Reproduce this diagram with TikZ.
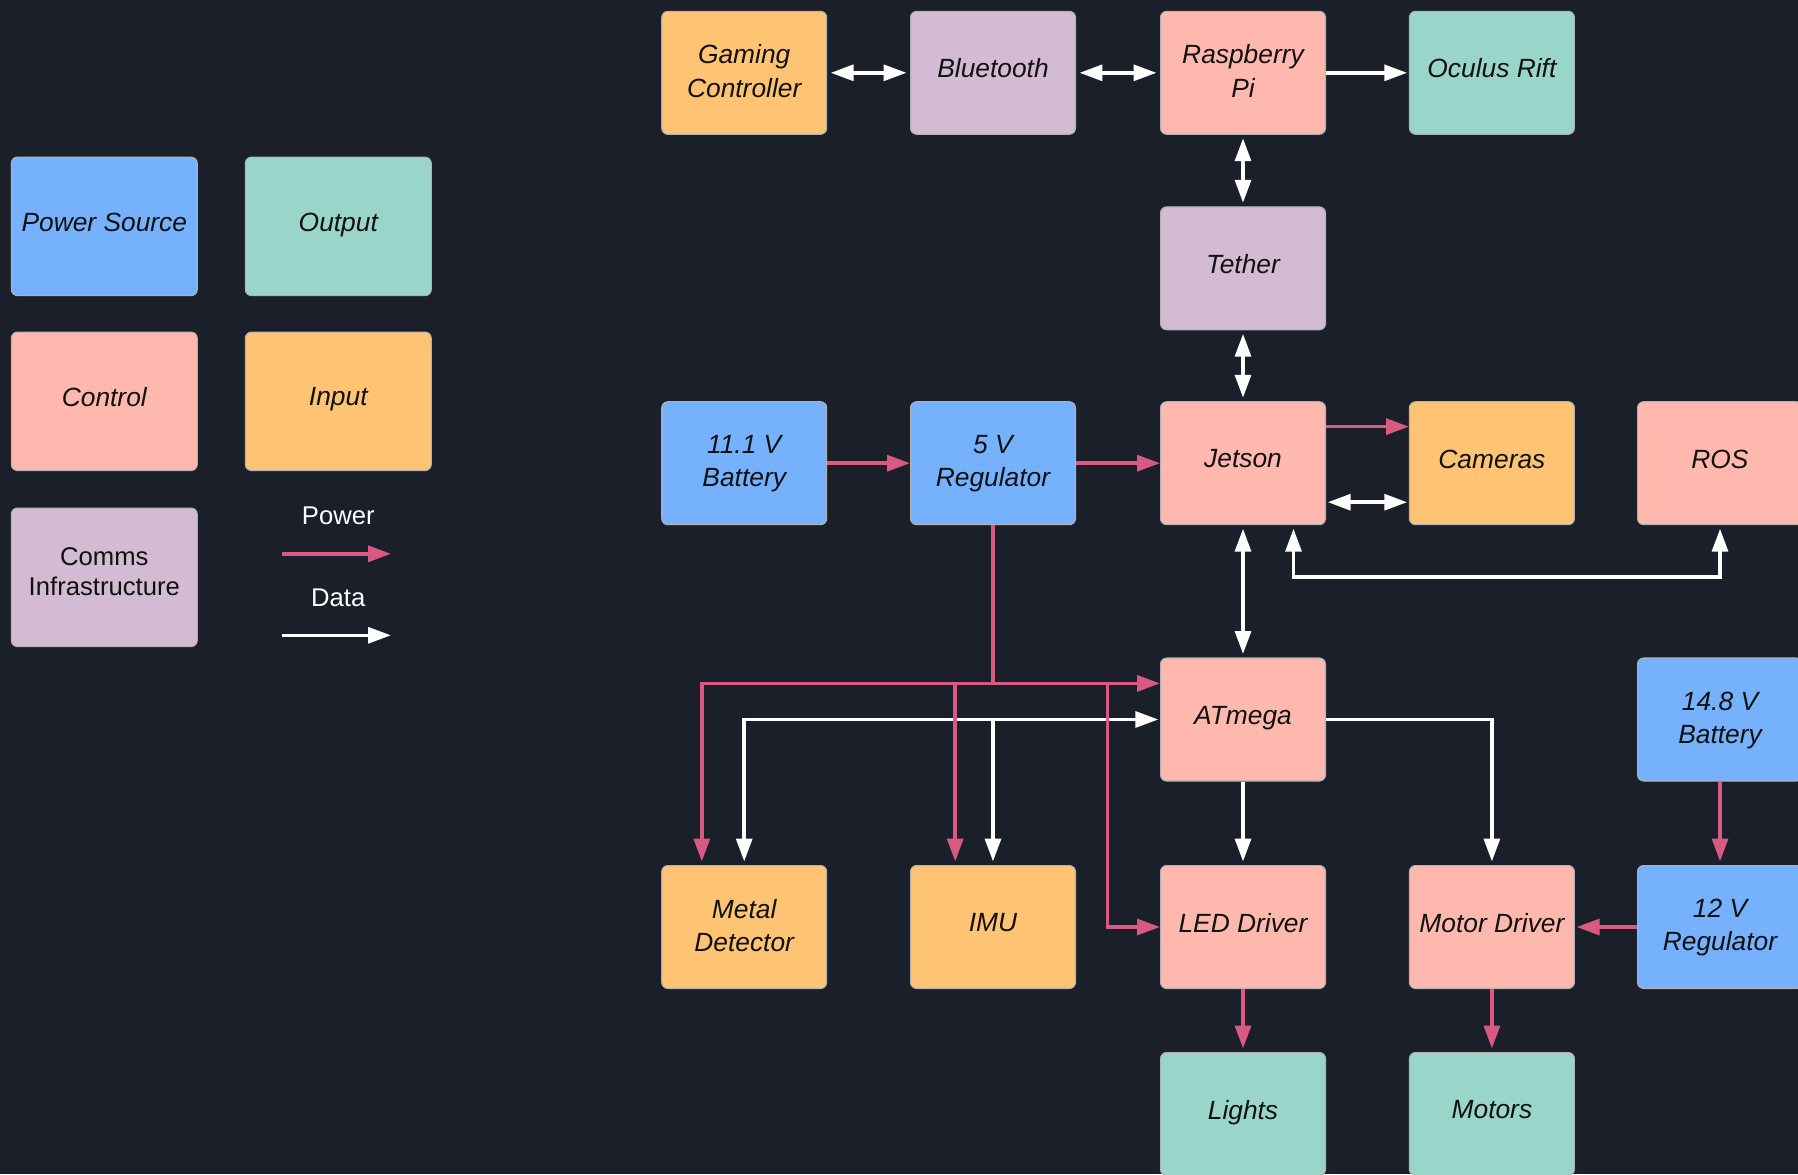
\documentclass[tikz,border=0pt]{standalone}
\usepackage{fontspec}
\setmainfont{Liberation Sans}
\usetikzlibrary{arrows.meta,calc}
\definecolor{bg}{HTML}{1B1F2A}
\definecolor{cblue}{HTML}{75B1FD}
\definecolor{cteal}{HTML}{9AD5C9}
\definecolor{cpink}{HTML}{FEB8AE}
\definecolor{corange}{HTML}{FEC373}
\definecolor{clav}{HTML}{D2BBD3}
\definecolor{pline}{HTML}{D85A83}
\definecolor{txt}{HTML}{111111}
\tikzset{
  >={Triangle[length=13pt,width=9pt]},
  box/.style={draw=gray!60, line width=0.6pt, rounded corners=3.5pt, minimum width=3.3cm, minimum height=2.46cm, inner sep=2pt, align=center, text=txt, text depth=0.21em, font=\fontsize{15}{18.8}\selectfont\itshape},
  one/.style={text depth=0.5em},
  lbox/.style={box, minimum width=3.72cm, minimum height=2.77cm},
  pw/.style={draw=pline, line width=2pt},
  dt/.style={draw=white, line width=2pt},
  legtxt/.style={text=white, font=\fontsize{14.6}{18}\selectfont}
}
\begin{document}
\begin{tikzpicture}[x=0.02cm,y=-0.02cm]
\fill[bg] (0,0) rectangle (1798,1174);
\useasboundingbox (0,0) rectangle (1798,1174);
% legend
\node[lbox, one, fill=cblue] (lps) at (104.3,226.4) {Power Source};
\node[lbox, one, fill=cteal] (lout) at (338.3,226.4) {Output};
\node[lbox, one, fill=cpink] (lctl) at (104.3,401.3) {Control};
\node[lbox, one, fill=corange] (linp) at (338.3,401.3) {Input};
\node[lbox, fill=clav, text depth=6.5pt, font=\fontsize{14.6}{17.5}\selectfont] (lcom) at (104.3,577.3) {Comms\\Infrastructure};
\node[legtxt] (lpw) at (338.3,516) {Power};
\node[legtxt] (ldt) at (338.3,597.4) {Data};
\coordinate (lpa) at (282,553.8);
\coordinate (lpb) at (391,553.8);
\coordinate (lda) at (282,635.3);
\coordinate (ldb) at (391,635.3);
\draw[pw,->] (lpa) -- (lpb);
\draw[dt,->] (lda) -- (ldb);
% main boxes
\node[box, fill=corange] (gc) at (744.2,72.8) {Gaming\\Controller};
\node[box, one, fill=clav] (bt) at (993,72.8) {Bluetooth};
\node[box, fill=cpink] (rpi) at (1243,72.8) {Raspberry\\Pi};
\node[box, one, fill=cteal] (ocu) at (1491.9,72.8) {Oculus Rift};
\node[box, one, fill=clav] (teth) at (1243,268.3) {Tether};
\node[box, fill=cblue] (bat) at (744.2,463.2) {11.1 V\\Battery};
\node[box, fill=cblue] (reg) at (993,463.2) {5 V\\Regulator};
\node[box, one, fill=cpink] (jet) at (1243,463.2) {Jetson};
\node[box, one, fill=corange] (cam) at (1491.9,463.2) {Cameras};
\node[box, one, fill=cpink] (ros) at (1720,463.2) {ROS};
\node[box, one, fill=cpink] (atm) at (1243,719.5) {ATmega};
\node[box, fill=cblue] (bat2) at (1720,719.5) {14.8 V\\Battery};
\node[box, fill=corange] (md) at (744.2,927) {Metal\\Detector};
\node[box, one, fill=corange] (imu) at (993,927) {IMU};
\node[box, one, fill=cpink] (led) at (1243,927) {LED Driver};
\node[box, one, fill=cpink] (mot) at (1491.9,927) {Motor Driver};
\node[box, fill=cblue] (reg2) at (1720,927) {12 V\\Regulator};
\node[box, one, fill=cteal] (lig) at (1243,1114) {Lights};
\node[box, one, fill=cteal] (mots) at (1491.9,1114) {Motors};
% data connectors
\draw[dt,<->,shorten <=2pt,shorten >=2pt] (gc) -- (bt);
\draw[dt,<->,shorten <=2pt,shorten >=2pt] (bt) -- (rpi);
\draw[dt,->,shorten >=1pt] (rpi) -- (ocu);
\draw[dt,<->,shorten <=2pt,shorten >=2pt] (rpi) -- (teth);
\draw[dt,<->,shorten <=2pt,shorten >=2pt] (teth) -- (jet);
\draw[dt,<->,shorten <=2pt,shorten >=2pt] (jet) -- (atm);
\draw[dt,<->,shorten <=1pt,shorten >=1pt] ($(jet.east)+(0,39)$) -- ($(cam.west)+(0,39)$);
\coordinate (jra) at ($(jet.south)+(50.5,0)$);
\coordinate (jrb) at ($(jet.south)+(50.5,51.6)$);
\draw[dt,<->,shorten <=2pt,shorten >=2pt] (jra) -- (jrb) -| (ros.south);
\draw[dt,<->,shorten <=1pt,shorten >=2pt] (atm.west) -| (md.north);
\coordinate (idt) at (imu.north |- atm.west);
\draw[dt,->,shorten >=2pt] (idt) -- (imu.north);
\draw[dt,->,shorten >=2pt] (atm) -- (led);
\draw[dt,->,shorten >=2pt] (atm.east) -| (mot.north);
% power connectors
\draw[pw,->] (bat) -- (reg);
\draw[pw,->] (reg) -- (jet);
\draw[pw,->] ($(jet.east)+(0,-36.6)$) -- ($(cam.west)+(0,-36.6)$);
\coordinate (pj) at (993,683.4);
\draw[pw] (reg.south) -- (pj);
\draw[pw,->] (pj) -- (pj -| atm.west);
\coordinate (mdp) at ($(md.north)+(-42.4,0)$);
\draw[pw,->,shorten >=2pt] (pj) -| (mdp);
\coordinate (ib) at ($(imu.north)+(-37.8,0)$);
\draw[pw,->,shorten >=2pt] (ib |- pj) -- (ib);
\coordinate (lb) at (1107.7,683.4);
\draw[pw,->] (lb) |- (led.west);
\draw[pw,->,shorten >=2pt] (bat2) -- (reg2);
\draw[pw,->,shorten >=1pt] (reg2) -- (mot);
\draw[pw,->,shorten >=2pt] (led) -- (lig);
\draw[pw,->,shorten >=2pt] (mot) -- (mots);
\end{tikzpicture}
\end{document}
